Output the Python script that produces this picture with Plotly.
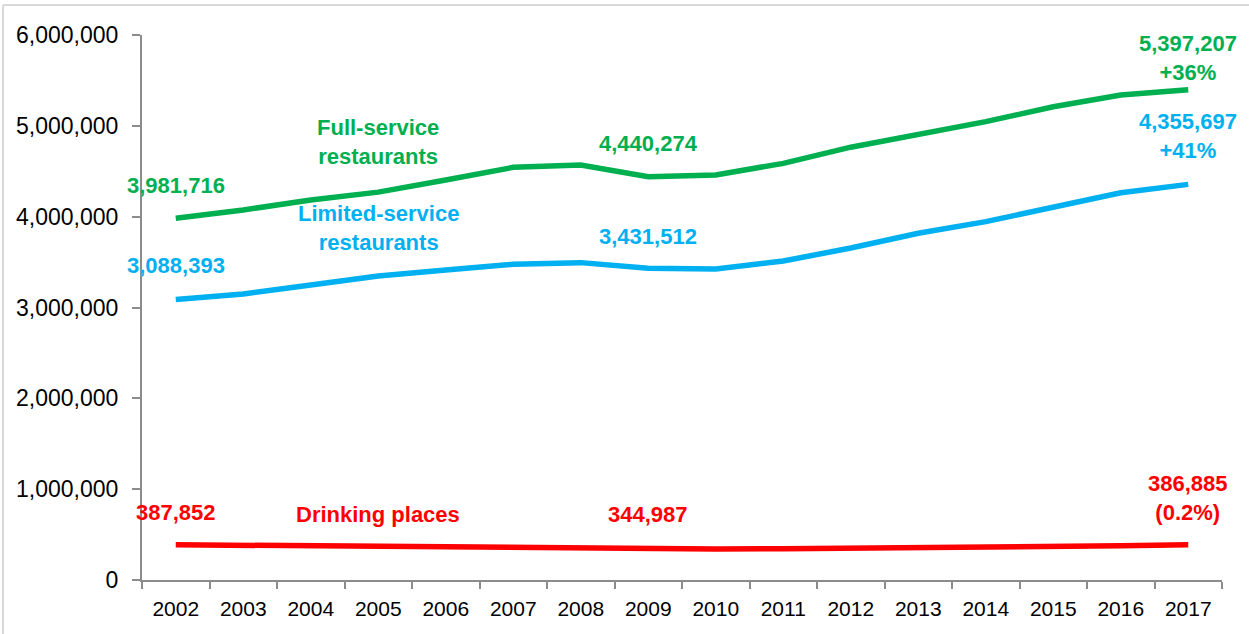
import plotly.graph_objects as go

# Eating and drinking establishment employment, 2002-2017
years = [str(y) for y in range(2002, 2018)]
full_service = [3981716, 4074000, 4184000, 4270000, 4404000, 4543000, 4569000, 4440274,
                4459000, 4587000, 4765000, 4907000, 5046000, 5210000, 5340000, 5397207]
limited_service = [3088393, 3149000, 3248000, 3347000, 3413000, 3476000, 3494000, 3431512,
                   3424000, 3512000, 3655000, 3817000, 3945000, 4103000, 4264000, 4355697]
drinking_places = [387852, 381000, 372000, 367000, 362000, 358000, 351000, 344987,
                   342000, 343000, 347000, 352000, 360000, 368000, 378000, 386885]
y_ticks = [0, 1000000, 2000000, 3000000, 4000000, 5000000, 6000000]

GREEN = "#00B050"
BLUE = "#00B0F0"
RED = "#FF0000"
AXIS = "#8C8C8C"
FONT = "Liberation Sans Narrow, Arial Narrow, Liberation Sans, Arial, sans-serif"


def pct_change(series):
    return (series[-1] / series[0] - 1) * 100


fig = go.Figure()
for name, vals, col in [("Full-service restaurants", full_service, GREEN),
                        ("Limited-service restaurants", limited_service, BLUE),
                        ("Drinking places", drinking_places, RED)]:
    fig.add_trace(go.Scatter(x=years, y=vals, mode="lines", name=name,
                             line=dict(color=col, width=5.5), showlegend=False,
                             hoverinfo="skip"))


def note(idx, y, text, color):
    # idx is the category position on the year axis
    fig.add_annotation(x=idx, y=y, xref="x", yref="y", text=f"<b>{text}</b>",
                       showarrow=False,
                       font=dict(family=FONT, size=22, color=color),
                       xanchor="center", yanchor="middle", align="center")


first, mid, last = 0, years.index("2009"), len(years) - 1
label_col = years.index("2005")
fs_pct = pct_change(full_service)
ls_pct = pct_change(limited_service)
dp_pct = pct_change(drinking_places)

note(first, 4.34e6, f"{full_service[first]:,}", GREEN)
note(first, 3.457e6, f"{limited_service[first]:,}", BLUE)
note(first, 0.738e6, f"{drinking_places[first]:,}", RED)
note(label_col, 4.822e6, "Full-service<br>restaurants", GREEN)
note(label_col, 3.875e6, "Limited-service<br>restaurants", BLUE)
note(label_col, 0.716e6, "Drinking places", RED)
note(mid, 4.811e6, f"{full_service[mid]:,}", GREEN)
note(mid, 3.787e6, f"{limited_service[mid]:,}", BLUE)
note(mid, 0.716e6, f"{drinking_places[mid]:,}", RED)
note(last, 5.752e6, f"{full_service[last]:,}<br>+{fs_pct:.0f}%", GREEN)
note(last, 4.883e6, f"{limited_service[last]:,}<br>+{ls_pct:.0f}%", BLUE)
dp_txt = f"({abs(dp_pct):.1f}%)" if dp_pct < 0 else f"+{dp_pct:.1f}%"
note(last, 0.908e6, f"{drinking_places[last]:,}<br>{dp_txt}", RED)

# thin frame along the top and left edges of the chart area
fig.add_shape(type="line", xref="paper", yref="paper", x0=-0.1287, x1=1.1, y0=1.055, y1=1.055,
              line=dict(color="#D9D9D9", width=2), layer="below")
fig.add_shape(type="line", xref="paper", yref="paper", x0=-0.1287, x1=-0.1287, y0=-0.2, y1=1.055,
              line=dict(color="#D9D9D9", width=2), layer="below")

fig.update_layout(
    width=1249, height=634,
    margin=dict(l=142, r=27, t=35, b=54),
    plot_bgcolor="white", paper_bgcolor="white",
    font=dict(family=FONT, color="black"),
    xaxis=dict(type="category", range=[-0.5, 15.5], tickson="boundaries",
               showline=True, linecolor=AXIS, linewidth=2, ticks="outside",
               ticklen=7, tickcolor=AXIS, tickwidth=2, showgrid=False,
               tickfont=dict(size=21, color="black"), ticklabelstandoff=9),
    yaxis=dict(range=[0, 6000000], tickvals=y_ticks, tickformat=",d",
               showline=True, linecolor=AXIS, linewidth=2, ticks="outside",
               ticklen=8, tickcolor=AXIS, tickwidth=2, showgrid=False, zeroline=False,
               tickfont=dict(size=23, color="black"), ticklabelstandoff=9),
)

fig.write_html("out.html")
